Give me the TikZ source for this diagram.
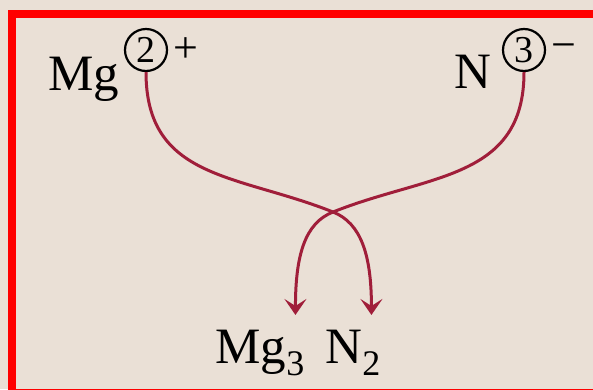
\documentclass[tikz,border=0pt]{standalone}
\usepackage{fontspec}
\setmainfont{Liberation Serif}
\usepackage{tikz}
\usetikzlibrary{positioning, arrows.meta}
\definecolor{paper}{RGB}{234,224,214}
\definecolor{arrowred}{RGB}{160,30,58}

\begin{document}
\begin{tikzpicture}[x=1pt, y=-1pt,
    lbl/.style={inner sep=0pt, font=\fontsize{51}{60}\selectfont},
    sublbl/.style={inner sep=0pt, font=\fontsize{36}{42}\selectfont},
    sign/.style={inner sep=0pt, font=\fontsize{44}{50}\selectfont},
    charge/.style={circle, draw, line width=2.2pt, inner sep=0pt, minimum size=42pt, font=\fontsize{38}{44}\selectfont},
    swap/.style={draw=arrowred, line width=3pt, -{Stealth[length=16pt, width=22pt, inset=7pt]}}]
    % Background and frame
    \clip (0,0) rectangle (593,389);
    \fill[paper] (0,0) rectangle (593,389);
    \draw[red, line width=8pt] (11.5,14) rectangle (640,393);

    % Ions
    \node[lbl, anchor=base west] (mg) at (48,90) {Mg};
    \node[charge] (two) at (146,50) {2};
    \node[sign, right=5pt of two] (plus) {+};
    \node[lbl, anchor=base west] (n) at (454,88) {N};
    \node[charge] (three) at (524,50) {3};
    \node[sign, right=5pt of three, yshift=-2pt] (minus) {−};

    % Formula
    \node[lbl, anchor=base west] (mgb) at (215,363) {Mg};
    \node[sublbl, anchor=base west] (sub3) at ([yshift=-12pt]mgb.base east) {3};
    \node[lbl, anchor=base west] (nb) at (325,363) {N};
    \node[sublbl, anchor=base west] (sub2) at ([yshift=-12pt]nb.base east) {2};

    % Crossing charges
    \coordinate (cross) at (333,212);
    \coordinate[above=36pt of sub3] (tipl);
    \coordinate[above=36pt of sub2] (tipr);
    \draw[swap] (two.south) .. controls +(0,108) and +(-95,-38) .. (cross)
        .. controls +(28,11) and +(0,-60) .. (tipr);
    \draw[swap] (three.south) .. controls +(0,108) and +(95,-38) .. (cross)
        .. controls +(-28,11) and +(0,-60) .. (tipl);
\end{tikzpicture}
\end{document}
